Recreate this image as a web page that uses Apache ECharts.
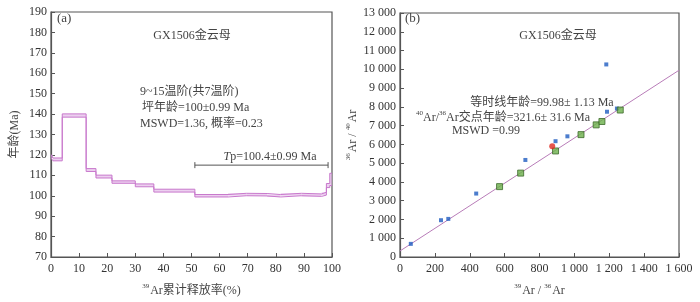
<!DOCTYPE html>
<html><head><meta charset="utf-8">
<script src="https://cdn.jsdelivr.net/npm/echarts@6/dist/echarts.min.js"></script>
<style>html,body{margin:0;padding:0;background:#fff}#c{width:700px;height:302px}</style>
</head><body><div id="c"></div>
<script>
// ---- Spectrum (a) data ----
const stepStart = [0, 0.7, 4, 12.5, 16, 21.7, 30, 36.6, 51.2, 63, 69.5, 76.9, 81.7, 89.1, 96.3, 98, 99.2];
const stepEnd   = [0.7, 4, 12.5, 16, 21.7, 30, 36.6, 51.2, 63, 69.5, 76.9, 81.7, 89.1, 96.3, 98, 99.2, 100];
const stepAge   = [119.3, 117.8, 139.3, 112.6, 109.4, 106.7, 105.1, 102.5, 100.0, 100.6, 100.5, 100.0, 100.6, 100.3, 101.0, 105.0, 108.0];
const stepErr   = [0.8, 0.7, 0.8, 0.7, 0.7, 0.6, 0.7, 0.7, 0.6, 0.6, 0.6, 0.6, 0.6, 0.6, 0.7, 1.0, 3.0];
const plateauX = [51.2, 98.6];
const plateauY = 115;

// ---- Isochron (b) data ----
const bluePts = [[62, 700], [235, 1960], [277, 2030], [437, 3380], [719, 5170], [892, 6170], [960, 6430], [1187, 7740], [1183, 10260], [1244, 7910]];
const greenPts = [[571, 3750], [692, 4470], [892, 5650], [1038, 6520], [1125, 7040], [1158, 7220], [1263, 7830]];
const redPts = [[873, 5900]];
const isoX = [0, 1600];
const isoY = [321.6, 9950];

const serif = 'Liberation Serif, Times New Roman, serif';
const cjk = 'Liberation Serif, Noto Sans CJK SC, serif';
const txt = '#444';
const pink = '#c878cc';

const topLine = [], botLine = [];
stepStart.forEach((s, i) => {
  topLine.push([s, stepAge[i] + stepErr[i]], [stepEnd[i], stepAge[i] + stepErr[i]]);
  botLine.push([s, stepAge[i] - stepErr[i]], [stepEnd[i], stepAge[i] - stepErr[i]]);
});
const rects = stepStart.map((s, i) => [s, stepEnd[i], stepAge[i] - stepErr[i], stepAge[i] + stepErr[i]]);

function spaced(v) { return String(v).replace(/\B(?=(\d{3})+(?!\d))/g, ' '); }

const axisCommon = {
  axisLine: { show: true, onZero: false, lineStyle: { color: '#555', width: 1.2 } },
  axisTick: { show: true, inside: true, length: 4, lineStyle: { color: '#555' } },
  splitLine: { show: false },
  axisLabel: { color: '#333', fontFamily: serif, fontSize: 12 }
};
const supRich = { sup: { fontSize: 7, fontFamily: serif, verticalAlign: 'top', lineHeight: 14, padding: [0, 1, 0, 0] },
                  n: { fontSize: 12, fontFamily: cjk, lineHeight: 14, verticalAlign: 'bottom' } };

const chart = echarts.init(document.getElementById('c'));
chart.setOption({
  animation: false,
  grid: [
    { left: 51, top: 12, width: 281, height: 248, show: true, borderColor: '#555', borderWidth: 1.2, backgroundColor: 'transparent' },
    { left: 400, top: 13, width: 279, height: 245, show: true, borderColor: '#555', borderWidth: 1.2, backgroundColor: 'transparent' }
  ],
  xAxis: [
    Object.assign({}, axisCommon, { gridIndex: 0, type: 'value', min: 0, max: 100, interval: 10,
      name: '{sup|39}{n|Ar累计释放率(%)}', nameLocation: 'middle', nameGap: 26,
      nameTextStyle: { color: txt, rich: supRich },
      axisLabel: { color: '#333', fontFamily: serif, fontSize: 12, margin: 6 } }),
    Object.assign({}, axisCommon, { gridIndex: 1, type: 'value', min: 0, max: 1600, interval: 200,
      name: '{sup|39}{n|Ar / }{sup|36}{n|Ar}', nameLocation: 'middle', nameGap: 26,
      nameTextStyle: { color: txt, rich: supRich },
      axisLabel: { color: '#333', fontFamily: serif, fontSize: 12, margin: 6, formatter: v => spaced(v) } })
  ],
  yAxis: [
    Object.assign({}, axisCommon, { gridIndex: 0, type: 'value', min: 70, max: 190, interval: 10,
      name: '年龄(Ma)', nameLocation: 'middle', nameGap: 30, nameRotate: 90,
      nameTextStyle: { color: txt, fontFamily: cjk, fontSize: 12 },
      axisLabel: { color: '#333', fontFamily: serif, fontSize: 12, margin: 4 } }),
    Object.assign({}, axisCommon, { gridIndex: 1, type: 'value', min: 0, max: 13000, interval: 1000,
      name: '{sup|36}{n|Ar / }{sup|40}{n|Ar}', nameLocation: 'middle', nameGap: 33, nameRotate: 90,
      nameTextStyle: { color: txt, rich: supRich },
      axisLabel: { color: '#333', fontFamily: serif, fontSize: 12, margin: 4, formatter: v => spaced(v) } })
  ],
  series: [
    { type: 'custom', xAxisIndex: 0, yAxisIndex: 0, data: rects, z: 2,
      renderItem: (params, api) => {
        const p0 = api.coord([api.value(0), api.value(3)]);
        const p1 = api.coord([api.value(1), api.value(2)]);
        return { type: 'rect', shape: { x: p0[0], y: p0[1], width: p1[0] - p0[0], height: p1[1] - p0[1] },
          style: { fill: 'rgba(220,170,225,0.55)', stroke: null } };
      } },
    { type: 'line', xAxisIndex: 0, yAxisIndex: 0, data: topLine, symbol: 'none', lineStyle: { color: pink, width: 1 }, z: 3 },
    { type: 'line', xAxisIndex: 0, yAxisIndex: 0, data: botLine, symbol: 'none', lineStyle: { color: pink, width: 1 }, z: 3 },
    { type: 'custom', xAxisIndex: 0, yAxisIndex: 0, data: [[plateauX[0], plateauX[1], plateauY]], z: 4,
      renderItem: (params, api) => {
        const a = api.coord([api.value(0), api.value(2)]);
        const b = api.coord([api.value(1), api.value(2)]);
        const st = { stroke: '#555', lineWidth: 1 };
        return { type: 'group', children: [
          { type: 'line', shape: { x1: a[0], y1: a[1], x2: b[0], y2: b[1] }, style: st },
          { type: 'line', shape: { x1: a[0], y1: a[1] - 3, x2: a[0], y2: a[1] + 3 }, style: st },
          { type: 'line', shape: { x1: b[0], y1: b[1] - 3, x2: b[0], y2: b[1] + 3 }, style: st }
        ] };
      } },
    { type: 'line', xAxisIndex: 1, yAxisIndex: 1, data: isoX.map((x, i) => [x, isoY[i]]), symbol: 'none',
      lineStyle: { color: '#b87cb8', width: 1 }, z: 2 },
    { type: 'scatter', xAxisIndex: 1, yAxisIndex: 1, data: bluePts, symbol: 'rect', symbolSize: 4,
      itemStyle: { color: '#1f5cc0' }, z: 3 },
    { type: 'scatter', xAxisIndex: 1, yAxisIndex: 1, data: greenPts, symbol: 'rect', symbolSize: 6,
      itemStyle: { color: '#6cb04a', borderColor: '#3d6a2c', borderWidth: 1 }, z: 4 },
    { type: 'scatter', xAxisIndex: 1, yAxisIndex: 1, data: redPts, symbol: 'circle', symbolSize: 6,
      itemStyle: { color: '#e02a20' }, z: 5 }
  ],
  graphic: [
    { type: 'text', left: 57, top: 12, style: { text: '(a)', font: '13px ' + serif, fill: txt } },
    { type: 'text', left: 405, top: 12, style: { text: '(b)', font: '13px ' + serif, fill: txt } },
    { type: 'text', x: 192, y: 36, style: { text: 'GX1506金云母', font: '12px ' + cjk, fill: txt, align: 'center', verticalAlign: 'middle' } },
    { type: 'text', x: 558, y: 36, style: { text: 'GX1506金云母', font: '12px ' + cjk, fill: txt, align: 'center', verticalAlign: 'middle' } },
    { type: 'text', x: 140, y: 92, style: { text: '9~15温阶(共7温阶)', font: '12px ' + cjk, fill: txt, verticalAlign: 'middle' } },
    { type: 'text', x: 142, y: 108, style: { text: '坪年龄=100±0.99 Ma', font: '12px ' + cjk, fill: txt, verticalAlign: 'middle' } },
    { type: 'text', x: 140, y: 124, style: { text: 'MSWD=1.36, 概率=0.23', font: '12px ' + cjk, fill: txt, verticalAlign: 'middle' } },
    { type: 'text', x: 270, y: 157, style: { text: '{i|T}{n|p=100.4±0.99 Ma}', align: 'center', verticalAlign: 'middle', fill: txt,
      rich: { i: { fontStyle: 'italic', fontSize: 12, fontFamily: serif, fill: txt }, n: { fontSize: 12, fontFamily: serif, fill: txt } } } },
    { type: 'text', x: 542, y: 103, style: { text: '等时线年龄=99.98± 1.13 Ma', font: '12px ' + cjk, fill: txt, align: 'center', verticalAlign: 'middle' } },
    { type: 'text', x: 503, y: 117, style: { text: '{s|40}{n|Ar/}{s|36}{n|Ar交点年龄=321.6± 31.6 Ma}', align: 'center', verticalAlign: 'middle', fill: txt,
      rich: { s: { fontSize: 7, fontFamily: serif, fill: txt, verticalAlign: 'top', lineHeight: 14 }, n: { fontSize: 12, fontFamily: cjk, fill: txt, lineHeight: 14, verticalAlign: 'bottom' } } } },
    { type: 'text', x: 486, y: 131, style: { text: 'MSWD =0.99', font: '12px ' + serif, fill: txt, align: 'center', verticalAlign: 'middle' } }
  ]
});
</script></body></html>
